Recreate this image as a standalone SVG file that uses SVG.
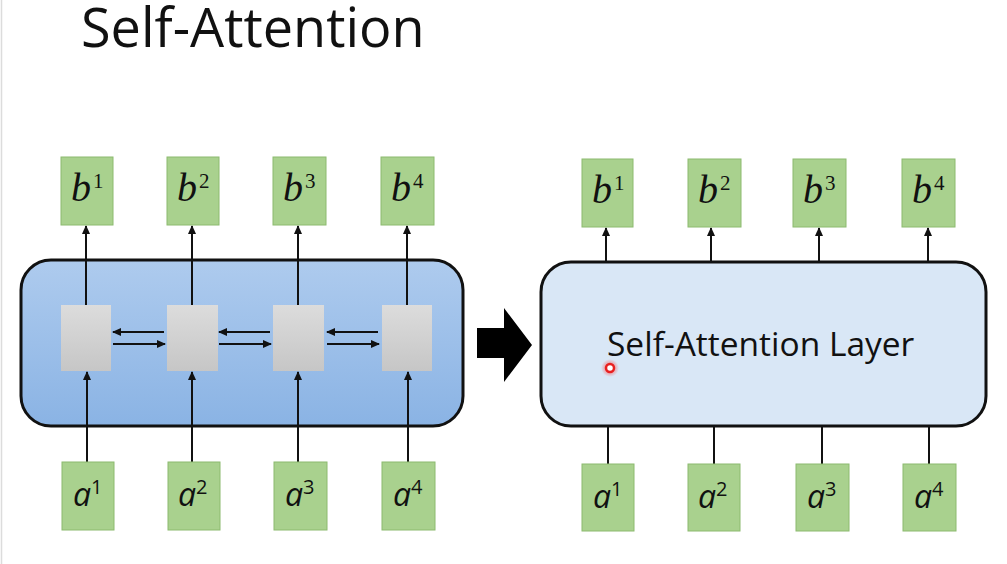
<svg xmlns="http://www.w3.org/2000/svg" width="1007" height="564" viewBox="0 0 1007 564">
  <defs>
    <style>
      .g{fill:#a9d18e;stroke:#8cba6f;stroke-width:1}
      .gray{fill:url(#grayGrad)}
      .ln{stroke:#111;stroke-width:2;fill:none}
      .arr{marker-end:url(#ah)}
      .bt{font-family:"Liberation Serif",serif;font-style:italic;font-size:40px;fill:#111}
      .at{font-family:"Open Sans",sans-serif;font-style:italic;font-size:32px;fill:#111}
      .sup{font-family:"Liberation Serif",serif;font-style:normal;font-size:21px}
      .asup{font-family:"Open Sans",sans-serif;font-style:normal;font-size:20px}
    </style>
    <linearGradient id="grayGrad" x1="0" y1="0" x2="0" y2="1">
      <stop offset="0" stop-color="#dcdcdc"/>
      <stop offset="1" stop-color="#c6c6c6"/>
    </linearGradient>
    <linearGradient id="blueGrad" x1="0" y1="0" x2="0" y2="1">
      <stop offset="0" stop-color="#aecbee"/>
      <stop offset="1" stop-color="#8ab3e4"/>
    </linearGradient>
    <radialGradient id="glow">
      <stop offset="0" stop-color="#ff3030" stop-opacity="0.8"/>
      <stop offset="1" stop-color="#ff3030" stop-opacity="0"/>
    </radialGradient>
    <marker id="ah" markerWidth="10" markerHeight="10" refX="8" refY="5" orient="auto" markerUnits="userSpaceOnUse">
      <path d="M0,1 L9,5 L0,9 Z" fill="#111"/>
    </marker>
  </defs>
  <rect width="1007" height="564" fill="#fff"/>
  <line x1="1.5" y1="0" x2="1.5" y2="564" stroke="#dcdcdc" stroke-width="1.5"/>

  <text x="81" y="47" font-family="Open Sans, sans-serif" font-size="54" fill="#111">Self-Attention</text>

  <!-- left container -->
  <g id="rnn-layer">
    <rect x="21" y="260" width="442" height="166" rx="30" fill="url(#blueGrad)" stroke="#111" stroke-width="3"/>
  </g>
  <g id="cells">
    <rect class="gray" x="61" y="305" width="50" height="66"/>
    <rect class="gray" x="167" y="305" width="51" height="66"/>
    <rect class="gray" x="273" y="305" width="51" height="66"/>
    <rect class="gray" x="382" y="305" width="50" height="66"/>
  </g>

  <!-- right container -->
  <g id="sa-layer">
    <rect x="541" y="262" width="445" height="164" rx="30" fill="#d9e7f6" stroke="#111" stroke-width="3"/>
    <text x="607" y="356" font-family="Open Sans, sans-serif" font-size="33.5" fill="#111">Self-Attention Layer</text>
  </g>

  <!-- block arrow -->
  <g id="big-arrow">
    <path d="M477,328 L504,328 L504,308 L532,345 L504,382 L504,358 L477,358 Z" fill="#000"/>
  </g>

  <!-- connectors -->
  <g id="connectors">
    <line class="ln arr" x1="86" y1="305" x2="86" y2="226"/>
    <line class="ln arr" x1="192" y1="305" x2="192" y2="226"/>
    <line class="ln arr" x1="298" y1="305" x2="298" y2="226"/>
    <line class="ln arr" x1="407" y1="305" x2="407" y2="226"/>

    <line class="ln arr" x1="87" y1="462" x2="87" y2="372"/>
    <line class="ln arr" x1="192" y1="462" x2="192" y2="372"/>
    <line class="ln arr" x1="298" y1="462" x2="298" y2="372"/>
    <line class="ln arr" x1="408" y1="462" x2="408" y2="372"/>

    <line class="ln arr" x1="164" y1="332" x2="113" y2="332"/>
    <line class="ln arr" x1="113" y1="344" x2="165" y2="344"/>
    <line class="ln arr" x1="270" y1="332" x2="219" y2="332"/>
    <line class="ln arr" x1="219" y1="344" x2="271" y2="344"/>
    <line class="ln arr" x1="378" y1="332" x2="327" y2="332"/>
    <line class="ln arr" x1="327" y1="344" x2="379" y2="344"/>

    <line class="ln arr" x1="606" y1="262" x2="606" y2="228"/>
    <line class="ln arr" x1="711" y1="262" x2="711" y2="228"/>
    <line class="ln arr" x1="819" y1="262" x2="819" y2="228"/>
    <line class="ln arr" x1="928" y1="262" x2="928" y2="228"/>

    <line class="ln" x1="608" y1="426" x2="608" y2="464"/>
    <line class="ln" x1="714" y1="426" x2="714" y2="464"/>
    <line class="ln" x1="822" y1="426" x2="822" y2="464"/>
    <line class="ln" x1="929" y1="426" x2="929" y2="464"/>
  </g>

  <!-- left outputs -->
  <g id="L-b1"><rect class="g" x="61" y="157" width="52" height="68"/><text class="bt" x="71" y="201">b<tspan class="sup" dx="2" dy="-13">1</tspan></text></g>
  <g id="L-b2"><rect class="g" x="167" y="157" width="52" height="68"/><text class="bt" x="177" y="201">b<tspan class="sup" dx="2" dy="-13">2</tspan></text></g>
  <g id="L-b3"><rect class="g" x="273" y="157" width="53" height="68"/><text class="bt" x="283" y="201">b<tspan class="sup" dx="2" dy="-13">3</tspan></text></g>
  <g id="L-b4"><rect class="g" x="381" y="157" width="53" height="68"/><text class="bt" x="391" y="201">b<tspan class="sup" dx="2" dy="-13">4</tspan></text></g>

  <!-- left inputs -->
  <g id="L-a1"><rect class="g" x="62" y="462" width="52" height="68"/><text class="at" x="73" y="506">a<tspan class="asup" dy="-12">1</tspan></text></g>
  <g id="L-a2"><rect class="g" x="168" y="462" width="52" height="68"/><text class="at" x="178" y="506">a<tspan class="asup" dy="-12">2</tspan></text></g>
  <g id="L-a3"><rect class="g" x="274" y="462" width="53" height="68"/><text class="at" x="285" y="506">a<tspan class="asup" dy="-12">3</tspan></text></g>
  <g id="L-a4"><rect class="g" x="382" y="462" width="53" height="68"/><text class="at" x="393" y="506">a<tspan class="asup" dy="-12">4</tspan></text></g>

  <!-- right outputs -->
  <g id="R-b1"><rect class="g" x="582" y="159" width="51" height="68"/><text class="bt" x="592" y="203">b<tspan class="sup" dx="2" dy="-13">1</tspan></text></g>
  <g id="R-b2"><rect class="g" x="688" y="159" width="53" height="68"/><text class="bt" x="698" y="203">b<tspan class="sup" dx="2" dy="-13">2</tspan></text></g>
  <g id="R-b3"><rect class="g" x="793" y="159" width="53" height="68"/><text class="bt" x="803" y="203">b<tspan class="sup" dx="2" dy="-13">3</tspan></text></g>
  <g id="R-b4"><rect class="g" x="902" y="159" width="53" height="68"/><text class="bt" x="912" y="203">b<tspan class="sup" dx="2" dy="-13">4</tspan></text></g>

  <!-- right inputs -->
  <g id="R-a1"><rect class="g" x="582" y="464" width="52" height="67"/><text class="at" x="593" y="508">a<tspan class="asup" dy="-12">1</tspan></text></g>
  <g id="R-a2"><rect class="g" x="688" y="464" width="52" height="67"/><text class="at" x="698" y="508">a<tspan class="asup" dy="-12">2</tspan></text></g>
  <g id="R-a3"><rect class="g" x="796" y="464" width="53" height="67"/><text class="at" x="807" y="508">a<tspan class="asup" dy="-12">3</tspan></text></g>
  <g id="R-a4"><rect class="g" x="903" y="464" width="53" height="67"/><text class="at" x="914" y="508">a<tspan class="asup" dy="-12">4</tspan></text></g>

  <!-- laser pointer -->
  <circle cx="610" cy="368" r="9" fill="url(#glow)"/>
  <circle cx="610" cy="368" r="4" fill="#fff" stroke="#e82020" stroke-width="2.5"/>
</svg>
